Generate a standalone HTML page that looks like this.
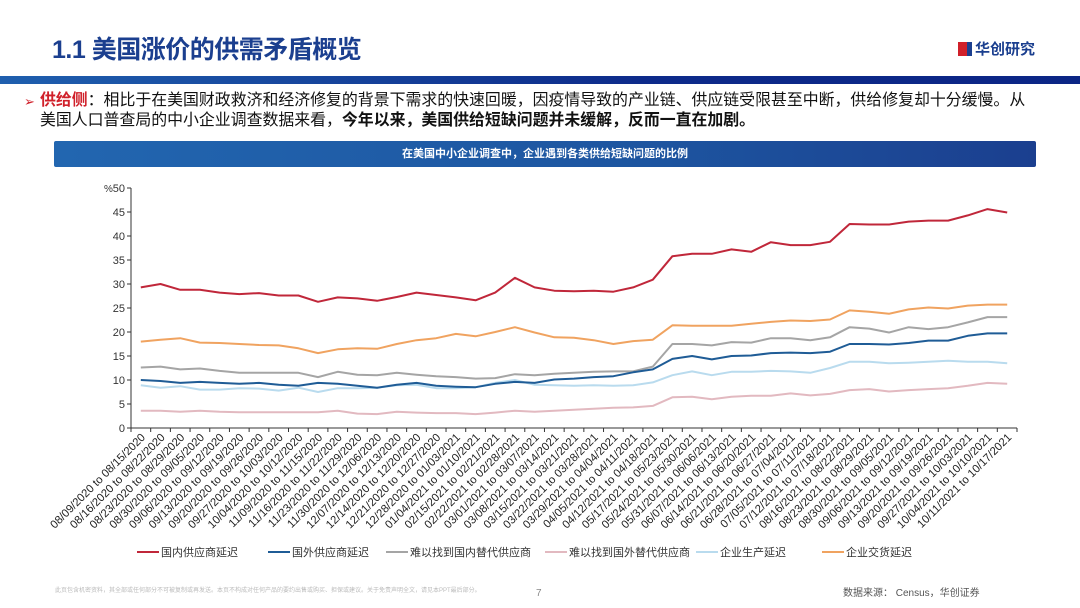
<!DOCTYPE html>
<html><head><meta charset="utf-8">
<style>
body{margin:0;width:1080px;height:608px;background:#fff;overflow:hidden;position:relative;font-family:"Liberation Sans","Noto Sans CJK SC",sans-serif;}
.abs{position:absolute;}
#title{left:52px;top:30px;font-size:25px;font-weight:bold;color:#1b3f8f;letter-spacing:-0.5px;}
#logo{left:958px;top:38px;font-size:15px;font-weight:bold;color:#1b3f8f;}
#topbar{left:0;top:76px;width:1080px;height:8px;background:linear-gradient(90deg,#1f5fae,#0d2a8a 60%,#0b2585);}
#bullet{left:40px;top:91px;width:1040px;font-size:15.9px;line-height:20px;color:#111;white-space:nowrap;}
#arrow{left:24px;top:92px;font-size:13px;line-height:20px;color:#d0202a;}
#hdr{left:54px;top:141px;width:982px;height:26px;background:linear-gradient(90deg,#2266b0,#1d55a0 60%,#1b3f8f);color:#fff;font-size:11px;font-weight:bold;text-align:center;line-height:26px;border-radius:2px;}
#foot{left:55px;top:585px;font-size:6px;color:#bbb;}
#page{left:536px;top:588px;font-size:10px;color:#888;}
#src{left:843px;top:584px;font-size:10px;color:#555;}
</style></head><body>
<div class="abs" id="title">1.1 美国涨价的供需矛盾概览</div>
<div class="abs" id="logo"><span style="display:inline-block;width:9px;height:14px;background:#d0202a;vertical-align:-2px"></span><span style="display:inline-block;width:5px;height:14px;background:#1b3f8f;vertical-align:-2px;margin-right:3px"></span>华创研究</div>
<div class="abs" id="topbar"></div>
<div class="abs" id="arrow">➢</div>
<div class="abs" id="bullet"><b style="color:#d0202a">供给侧</b>：相比于在美国财政救济和经济修复的背景下需求的快速回暖，因疫情导致的产业链、供应链受限甚至中断，供给修复却十分缓慢。从<br>美国人口普查局的中小企业调查数据来看，<b>今年以来，美国供给短缺问题并未缓解，反而一直在加剧。</b></div>
<div class="abs" id="hdr">在美国中小企业调查中，企业遇到各类供给短缺问题的比例</div>
<svg class="abs" style="left:0;top:0" width="1080" height="608" id="chart"></svg>
<div class="abs" id="foot">此页包含机密资料，其全部或任何部分不可被复制或再发送。本页不构成对任何产品的要约出售或购买、担保或建议。关于免责声明全文，请见本PPT最后部分。</div>
<div class="abs" id="page">7</div>
<div class="abs" id="src">数据来源： Census，华创证券</div>
<script>
const categories=["08/09/2020 to 08/15/2020","08/16/2020 to 08/22/2020","08/23/2020 to 08/29/2020","08/30/2020 to 09/05/2020","09/06/2020 to 09/12/2020","09/13/2020 to 09/19/2020","09/20/2020 to 09/26/2020","09/27/2020 to 10/03/2020","10/04/2020 to 10/12/2020","11/09/2020 to 11/15/2020","11/16/2020 to 11/22/2020","11/23/2020 to 11/29/2020","11/30/2020 to 12/06/2020","12/07/2020 to 12/13/2020","12/14/2020 to 12/20/2020","12/21/2020 to 12/27/2020","12/28/2020 to 01/03/2021","01/04/2021 to 01/10/2021","02/15/2021 to 02/21/2021","02/22/2021 to 02/28/2021","03/01/2021 to 03/07/2021","03/08/2021 to 03/14/2021","03/15/2021 to 03/21/2021","03/22/2021 to 03/28/2021","03/29/2021 to 04/04/2021","04/05/2021 to 04/11/2021","04/12/2021 to 04/18/2021","05/17/2021 to 05/23/2021","05/24/2021 to 05/30/2021","05/31/2021 to 06/06/2021","06/07/2021 to 06/13/2021","06/14/2021 to 06/20/2021","06/21/2021 to 06/27/2021","06/28/2021 to 07/04/2021","07/05/2021 to 07/11/2021","07/12/2021 to 07/18/2021","08/16/2021 to 08/22/2021","08/23/2021 to 08/29/2021","08/30/2021 to 09/05/2021","09/06/2021 to 09/12/2021","09/13/2021 to 09/19/2021","09/20/2021 to 09/26/2021","09/27/2021 to 10/03/2021","10/04/2021 to 10/10/2021","10/11/2021 to 10/17/2021"];
const domesticDelay=[29.3,30,28.8,28.8,28.2,27.9,28.1,27.6,27.6,26.3,27.2,27.0,26.5,27.3,28.2,27.7,27.2,26.6,28.2,31.3,29.3,28.6,28.5,28.6,28.4,29.3,30.9,35.8,36.3,36.3,37.2,36.7,38.7,38.1,38.1,38.8,42.5,42.4,42.4,43.0,43.2,43.2,44.3,45.6,44.9];
const foreignDelay=[10.0,9.8,9.4,9.6,9.4,9.2,9.4,9.0,8.8,9.4,9.2,8.8,8.4,9.0,9.4,8.8,8.6,8.5,9.2,9.6,9.4,10.1,10.3,10.6,10.8,11.6,12.2,14.4,15.0,14.3,15.0,15.1,15.6,15.7,15.6,15.9,17.5,17.5,17.4,17.7,18.2,18.2,19.2,19.7,19.7];
const noDomesticAlt=[12.6,12.8,12.2,12.4,11.9,11.5,11.5,11.5,11.5,10.6,11.7,11.1,11.0,11.5,11.1,10.8,10.6,10.3,10.4,11.2,11.0,11.3,11.5,11.7,11.8,11.8,12.8,17.5,17.5,17.2,17.9,17.8,18.7,18.7,18.3,18.9,21.0,20.7,19.9,21.0,20.6,21.0,22.0,23.1,23.1];
const noForeignAlt=[3.6,3.6,3.4,3.6,3.4,3.3,3.3,3.3,3.3,3.3,3.6,3.0,2.9,3.4,3.2,3.1,3.1,2.9,3.2,3.6,3.4,3.6,3.8,4.0,4.2,4.3,4.6,6.4,6.5,6.0,6.5,6.7,6.7,7.2,6.8,7.1,7.9,8.1,7.6,7.9,8.1,8.3,8.8,9.4,9.2];
const productionDelay=[8.9,8.4,8.7,8.0,8.0,8.3,8.2,7.8,8.4,7.5,8.3,8.3,8.4,8.9,9.0,8.3,8.3,8.5,9.4,10.0,9.0,8.9,8.8,8.9,8.8,8.9,9.5,11.0,11.8,11.0,11.7,11.7,11.9,11.8,11.5,12.5,13.8,13.8,13.5,13.6,13.8,14.0,13.8,13.8,13.5];
const deliveryDelay=[18.0,18.4,18.7,17.8,17.7,17.5,17.3,17.2,16.6,15.6,16.4,16.6,16.5,17.5,18.3,18.7,19.6,19.1,20.0,21.0,19.9,18.9,18.8,18.3,17.5,18.1,18.4,21.4,21.3,21.3,21.3,21.7,22.1,22.4,22.3,22.6,24.5,24.2,23.8,24.7,25.1,24.9,25.5,25.7,25.7];
const yTicks=[0,5,10,15,20,25,30,35,40,45,50];
const seriesNames=["国内供应商延迟","国外供应商延迟","难以找到国内替代供应商","难以找到国外替代供应商","企业生产延迟","企业交货延迟"];

const svg=document.getElementById('chart');
const NS='http://www.w3.org/2000/svg';
const X0=131,X1=1017,Y0=428,Y1=188,YMAX=50;
const band=(X1-X0)/categories.length;
const xs=i=>X0+band*(i+0.5);
const ys=v=>Y0-(v/YMAX)*(Y0-Y1);
function mk(t,a){const e=document.createElementNS(NS,t);for(const k in a)e.setAttribute(k,a[k]);svg.appendChild(e);return e;}
let e;
e=mk('line',{x1:X0,y1:Y1,x2:X0,y2:Y0,stroke:'#333','stroke-width':1});


e=mk('line',{x1:X0,y1:Y0,x2:X1,y2:Y0,stroke:'#333','stroke-width':1});


yTicks.forEach(t=>{
  mk('line',{x1:X0-4,y1:ys(t),x2:X0,y2:ys(t),stroke:'#333'});
  const tx=mk('text',{x:X0-6,y:ys(t)+4,'text-anchor':'end','font-size':11,fill:'#333','font-family':'Liberation Sans'});
  tx.textContent=String(t);
  
  
});
const pct=mk('text',{x:104,y:192,'font-size':10,fill:'#333','font-family':'Liberation Sans'});pct.textContent='%';


for(let i=0;i<=categories.length;i++){mk('line',{x1:X0+band*i,y1:Y0,x2:X0+band*i,y2:Y0+4,stroke:'#333'});}
categories.forEach((c,i)=>{
  const x=xs(i)+5,y=Y0+10;
  const t=mk('text',{x:x,y:y,'text-anchor':'end','font-size':11.3,fill:'#222','font-family':'Liberation Sans',transform:`rotate(-45 ${x} ${y})`});
  t.textContent=c;
  
  
});
const series=[[domesticDelay,'#c0273a'],[foreignDelay,'#1f5c96'],[noDomesticAlt,'#a5a5a5'],[noForeignAlt,'#e2b9c0'],[productionDelay,'#b9dbee'],[deliveryDelay,'#f0a360']];
const order=[4,3,2,1,5,0];
order.forEach(k=>{
  const [d,col]=series[k];
  const p=mk('polyline',{points:d.map((v,i)=>xs(i).toFixed(1)+','+ys(v).toFixed(1)).join(' '),fill:'none',stroke:col,'stroke-width':2,'stroke-linejoin':'round'});
  
  
});
const lx=[137,268,386,545,696,822];
series.forEach((s,k)=>{
  mk('line',{x1:lx[k],y1:552,x2:lx[k]+22,y2:552,stroke:s[1],'stroke-width':2});
  const t=mk('text',{x:lx[k]+24,y:556,'font-size':11,fill:'#333','font-family':'Liberation Sans, Noto Sans CJK SC, sans-serif'});
  t.textContent=seriesNames[k];
  
  
});
</script>
</body></html>
